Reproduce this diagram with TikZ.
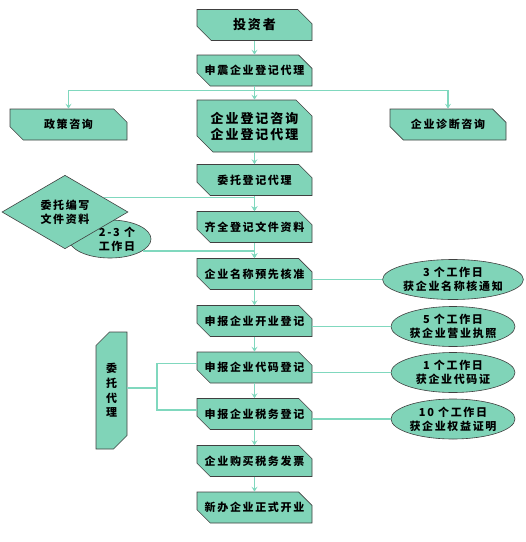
\documentclass[tikz,border=0pt]{standalone}
\usepackage{fontspec}
\newfontfamily\cjk[LetterSpace=15]{Noto Sans CJK SC}
\usepackage{tikz}
\usetikzlibrary{calc,arrows.meta,shapes.misc,shapes.geometric}
\definecolor{boxgreen}{HTML}{80D4B8}
\definecolor{linegreen}{HTML}{80D8BE}

\begin{document}
\begin{tikzpicture}[x=1pt,y=-1pt,
  txt/.style={font=\cjk\bfseries\fontsize{11}{14}\selectfont,align=center},
  bigtxt/.style={font=\cjk\bfseries\fontsize{13}{16}\selectfont,align=center},
  box/.style={txt,chamfered rectangle,chamfered rectangle corners={north east,south west},
    chamfered rectangle xsep=8pt,chamfered rectangle ysep=8pt,
    fill=boxgreen,draw=black!75,line width=0.6pt,inner sep=0pt,
    minimum width=115pt,minimum height=31pt},
  oval/.style={txt,ellipse,fill=boxgreen,draw=black!75,line width=0.6pt,inner sep=0pt,
    minimum width=124pt,minimum height=40pt},
  link/.style={linegreen,line width=1.3pt},
  flow/.style={link,-{Stealth[length=5pt,width=6pt,inset=2pt]}}]
  \useasboundingbox (0,0) rectangle (526,542);
  % main column
  \node[box,bigtxt] (inv) at (254.5,25) {投资者};
  \node[box] (shen) at (254.5,70.5) {申震企业登记代理};
  \node[box,bigtxt,minimum height=52pt] (zxdl) at (254.5,126) {企业登记咨询\\企业登记代理};
  \node[box] (wt) at (254.5,180) {委托登记代理};
  \node[box] (qq) at (254.5,227) {齐全登记文件资料};
  \node[box] (mc) at (254.5,274) {企业名称预先核准};
  \node[box] (kb) at (254.5,321) {申报企业开业登记};
  \node[box] (dm) at (254.5,367.5) {申报企业代码登记};
  \node[box] (sw) at (254.5,414) {申报企业税务登记};
  \node[box] (gm) at (254.5,461) {企业购买税务发票};
  \node[box] (xb) at (254.5,507.5) {新办企业正式开业};
  % side branches
  \node[box,minimum width=117pt] (zc) at (68.5,124.5) {政策咨询};
  \node[box,minimum width=116pt] (zd) at (448,124.5) {企业诊断咨询};
  \node[oval,minimum width=82pt,minimum height=38pt] (gz) at (110,239) {};
  \node[txt] (gzt) at (117,239) {2-3 个\\工作日};
  \node[txt,diamond,fill=boxgreen,draw=black!75,line width=0.6pt,inner sep=0pt,
    minimum width=126pt,minimum height=64pt] (dia) at (65,212) {委托编写\\文件资料};
  \node[box,chamfered rectangle corners={north west,south east},
    minimum width=31pt,minimum height=117pt,font=\cjk\bfseries\fontsize{11}{14.7}\selectfont]
    (wd) at (111.5,390.5) {委\\托\\代\\理};
  % time ovals
  \node[oval] (e1) at (453,279.5) {3 个工作日\\获企业名称核通知};
  \node[oval] (e2) at (453,326.5) {5 个工作日\\获企业营业执照};
  \node[oval] (e3) at (453,372.5) {1 个工作日\\获企业代码证};
  \node[oval] (e4) at (453,419) {10 个工作日\\获企业权益证明};
  % arrows down the column
  \foreach \a/\b in {inv/shen,shen/zxdl,zxdl/wt,wt/qq,qq/mc,mc/kb,kb/dm,dm/sw,sw/gm,gm/xb}
    \draw[flow] (\a.south) -- (\b.north);
  \coordinate (br) at ($(shen.south)+(0,4)$);
  \draw[flow] (br) -| (zc.north);
  \draw[flow] (br) -| (zd.north);
  \draw[flow] (dia.20) -| (qq.north);
  \draw[flow] (gz.-20) -| (mc.north);
  % plain links
  \foreach \b/\e in {mc/e1,kb/e2,dm/e3,sw/e4}
    \draw[link] (\e.west -| \b.east) -- (\e.west);
  \coordinate (fork) at (157,388);
  \draw[link] (fork -| wd.east) -- (fork);
  \draw[link] (fork) |- ($(dm.west)+(0,-4)$);
  \draw[link] (fork) |- ($(sw.west)+(0,-4)$);
\end{tikzpicture}
\end{document}
